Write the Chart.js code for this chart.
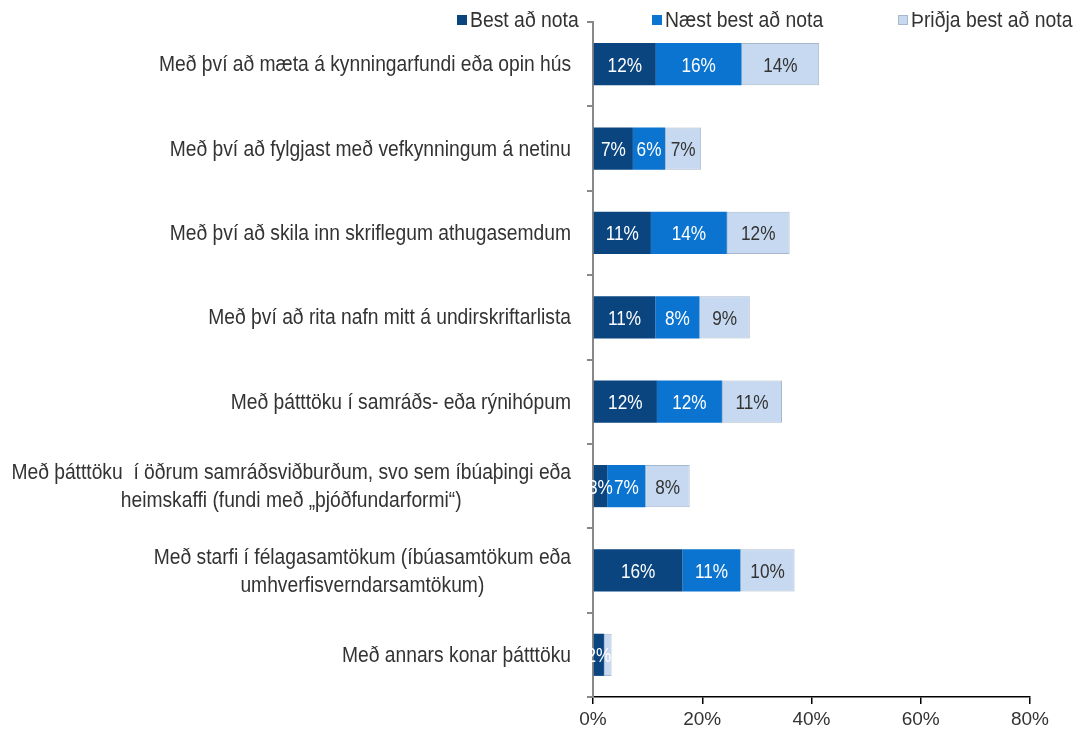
<!DOCTYPE html>
<html>
<head>
<meta charset="utf-8">
<script src="https://cdn.jsdelivr.net/npm/chart.js@4.4.1/dist/chart.umd.min.js"></script>
<style>
  html, body { margin: 0; padding: 0; background: #fff; }
  #wrap { width: 1081px; height: 736px; }
</style>
</head>
<body>
<div id="wrap"><canvas id="chart" width="1081" height="736"></canvas></div>
<script>
// Categories (multi-line ones as arrays)
const categories = [
  ["Með því að mæta á kynningarfundi eða opin hús"],
  ["Með því að fylgjast með vefkynningum á netinu"],
  ["Með því að skila inn skriflegum athugasemdum"],
  ["Með því að rita nafn mitt á undirskriftarlista"],
  ["Með þátttöku í samráðs- eða rýnihópum"],
  ["Með þátttöku  í öðrum samráðsviðburðum, svo sem íbúaþingi eða", "heimskaffi (fundi með „þjóðfundarformi“)"],
  ["Með starfi í félagasamtökum (íbúasamtökum eða", "umhverfisverndarsamtökum)"],
  ["Með annars konar þátttöku"]
];

const seriesNames = ["Best að nota", "Næst best að nota", "Þriðja best að nota"];
const bestValues   = [11.5, 7.3, 10.6, 11.4, 11.7, 2.6, 16.4, 2.0];
const secondValues = [15.7, 5.9, 13.9, 8.1, 11.9, 7.0, 10.6, 0];
const thirdValues  = [14.2, 6.6, 11.5, 9.2, 11.0, 8.1, 9.9, 1.4];
const xTicks = [0, 20, 40, 60, 80];

const colors = ["#0a4580", "#0a74d0", "#c6d9f0"];
const labelColors = ["#ffffff", "#ffffff", "#333333"];
const FONT = "'Liberation Sans', Arial, sans-serif";

// draw text squeezed horizontally (the original uses a narrow font)
function narrowText(ctx, text, x, y, sx) {
  ctx.save();
  ctx.translate(x, y);
  ctx.scale(sx, 1);
  ctx.fillText(text, 0, 0);
  ctx.restore();
}

// category labels drawn by hand so multi-line ones can be centred as a block
const categoryLabels = {
  id: "categoryLabels",
  afterDraw(chart) {
    const ctx = chart.ctx;
    const y = chart.scales.y;
    const right = 571;
    const sx = 0.875;
    ctx.save();
    ctx.font = "22px " + FONT;
    ctx.fillStyle = "#333";
    ctx.textBaseline = "middle";
    ctx.textAlign = "center";
    categories.forEach((lines, i) => {
      const cy = y.getPixelForTick(i) + 1;
      const lh = 28;
      const maxW = Math.max(...lines.map(l => ctx.measureText(l).width)) * sx;
      const cx = right - maxW / 2;
      lines.forEach((l, j) => {
        narrowText(ctx, l, cx, cy + (j - (lines.length - 1) / 2) * lh, sx);
      });
    });
    ctx.restore();
  }
};

// value labels in the middle of each segment
const valueLabels = {
  id: "valueLabels",
  afterDatasetsDraw(chart) {
    const ctx = chart.ctx;
    ctx.save();
    ctx.font = "20px " + FONT;
    ctx.textAlign = "center";
    ctx.textBaseline = "middle";
    chart.data.datasets.forEach((ds, di) => {
      const meta = chart.getDatasetMeta(di);
      meta.data.forEach((bar, i) => {
        const v = ds.data[i];
        if (v < 1.8) return;
        ctx.fillStyle = labelColors[di];
        narrowText(ctx, Math.round(v) + "%", (bar.x + bar.base) / 2, bar.y + 2, 0.86);
      });
    });
    ctx.restore();
  }
};

// legend at the top
const topLegend = {
  id: "topLegend",
  afterDraw(chart) {
    const ctx = chart.ctx;
    const xs = [457, 652, 898];
    ctx.save();
    ctx.font = "22px " + FONT;
    ctx.textBaseline = "middle";
    ctx.textAlign = "left";
    seriesNames.forEach((name, i) => {
      ctx.fillStyle = colors[i];
      ctx.fillRect(xs[i], 15, 10, 10);
      if (i === 2) {
        ctx.strokeStyle = "#a8b8cc";
        ctx.lineWidth = 1;
        ctx.strokeRect(xs[i] + 0.5, 15.5, 9, 9);
      }
      ctx.fillStyle = "#333";
      narrowText(ctx, name, xs[i] + 13, 21, 0.88);
    });
    ctx.restore();
  }
};

const values = [bestValues, secondValues, thirdValues];

new Chart(document.getElementById("chart"), {
  type: "bar",
  data: {
    labels: categories.map(c => c.join(" ")),
    datasets: seriesNames.map((name, i) => ({
      label: name,
      data: values[i],
      backgroundColor: colors[i],
      borderColor: i === 2 ? "#a8b8cc" : colors[i],
      borderWidth: i === 2 ? 1 : 0,
      borderSkipped: false,
      barPercentage: 0.5,
      categoryPercentage: 1.0
    }))
  },
  options: {
    indexAxis: "y",
    responsive: false,
    animation: false,
    layout: { padding: { top: 22, right: 51, left: 0, bottom: 0 } },
    plugins: {
      legend: { display: false },
      tooltip: { enabled: false }
    },
    scales: {
      x: {
        stacked: true,
        min: 0,
        max: 80,
        afterBuildTicks: axis => { axis.ticks = xTicks.map(v => ({ value: v })); },
        afterFit: axis => { axis.height = 39; },
        ticks: {
          color: "#333",
          font: { size: 19, family: FONT },
          padding: 4,
          maxRotation: 0,
          callback: v => v + "%"
        },
        grid: { drawOnChartArea: false, drawTicks: true, tickLength: 7, color: "#000", lineWidth: 1.5 },
        border: { color: "#000", width: 1.5 }
      },
      y: {
        stacked: true,
        afterFit: axis => { axis.width = 593; },
        ticks: { display: false },
        grid: { drawOnChartArea: false, offset: true, drawTicks: true, tickLength: 6, color: "#888", lineWidth: 2 },
        border: { color: "#888", width: 2 }
      }
    }
  },
  plugins: [categoryLabels, valueLabels, topLegend]
});
</script>
</body>
</html>
